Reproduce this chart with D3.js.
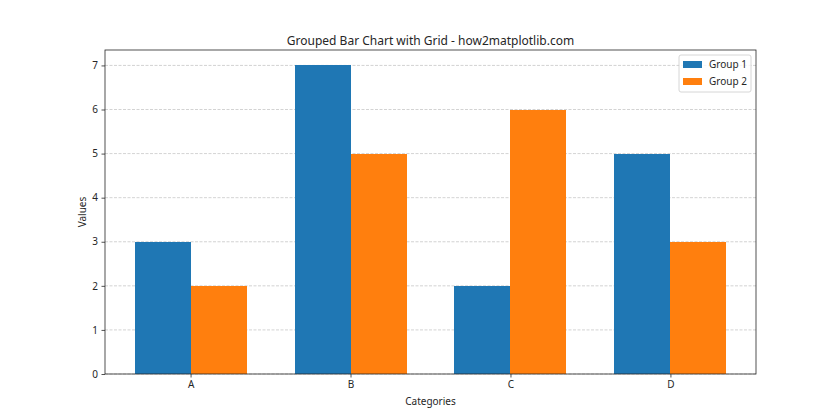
<!DOCTYPE html>
<html><head><meta charset="utf-8">
<script src="https://cdn.jsdelivr.net/npm/d3@7"></script>
<style>body{margin:0;background:#fff}svg{font-family:"Noto Sans",sans-serif}</style>
</head><body><svg id="c" width="840" height="420"></svg>
<script>
const categories = ["A","B","C","D"];
const group1 = [3,7,2,5];
const group2 = [2,5,6,3];
const seriesNames = ["Group 1","Group 2"];
const yTicks = [0,1,2,3,4,5,6,7];
const colors = ["#1f77b4","#ff7f0e"];

const svg = d3.select("#c");
const L=105,R=756,T=50,B=374;
const barW=0.35;
const x = d3.scaleLinear().domain([-0.535,3.535]).range([L,R]);
const y = d3.scaleLinear().domain([0,7.35]).range([B,T]);
svg.append("rect").attr("width",840).attr("height",420).attr("fill","#fff");

// grid
svg.append("g").selectAll("line").data(yTicks).join("line")
 .attr("x1",L).attr("x2",R).attr("y1",d=>y(d)).attr("y2",d=>y(d))
 .attr("stroke","#b0b0b0").attr("stroke-opacity",0.7).attr("stroke-width",0.8).attr("stroke-dasharray","3,1.5");

const series=[group1,group2];
series.forEach((vals,si)=>{
 svg.append("g").attr("shape-rendering","crispEdges").selectAll("rect").data(vals).join("rect")
  .attr("x",(d,i)=>x(i + (si===0?-barW:0)))
  .attr("width",(d,i)=>x(i+barW)-x(i))
  .attr("y",d=>y(d)).attr("height",d=>B-y(d)).attr("fill",colors[si]);
});

// axes
const ya = svg.append("g").attr("transform",`translate(${L},0)`)
 .call(d3.axisLeft(y).tickValues(yTicks).tickSize(3.5).tickPadding(3.5).tickFormat(d3.format("d")));
const xa = svg.append("g").attr("transform",`translate(0,${B})`)
 .call(d3.axisBottom(x).tickValues(categories.map((c,i)=>i)).tickSize(3.5).tickPadding(3.5).tickFormat(i=>categories[i]));
[ya,xa].forEach(a=>{a.select(".domain").remove();a.selectAll("text").attr("font-size",10).attr("fill","#262626").attr("font-family","Noto Sans");a.selectAll("line").attr("stroke","#262626").attr("stroke-width",0.8);});

svg.append("rect").attr("x",L).attr("y",T).attr("width",R-L).attr("height",B-T)
 .attr("fill","none").attr("stroke","#262626").attr("stroke-width",0.8);

svg.append("text").attr("x",(L+R)/2).attr("y",45).attr("text-anchor","middle").attr("font-size",12).attr("fill","#262626").text("Grouped Bar Chart with Grid - how2matplotlib.com");
svg.append("text").attr("x",(L+R)/2).attr("y",405).attr("text-anchor","middle").attr("font-size",10).attr("fill","#262626").text("Categories");
svg.append("text").attr("transform",`translate(86,${(T+B)/2}) rotate(-90)`).attr("text-anchor","middle").attr("font-size",10).attr("fill","#262626").text("Values");

// legend
const lg = svg.append("g");
lg.append("rect").attr("x",679).attr("y",55).attr("width",72).attr("height",37).attr("rx",2)
 .attr("fill","#fff").attr("fill-opacity",0.8).attr("stroke","#cccccc").attr("stroke-width",0.8);
seriesNames.forEach((n,i)=>{
 lg.append("rect").attr("x",683).attr("y",61+i*17).attr("width",19).attr("height",7).attr("fill",colors[i]);
 lg.append("text").attr("x",709).attr("y",68+i*17).attr("font-size",10).attr("fill","#262626").text(n);
});
</script></body></html>
